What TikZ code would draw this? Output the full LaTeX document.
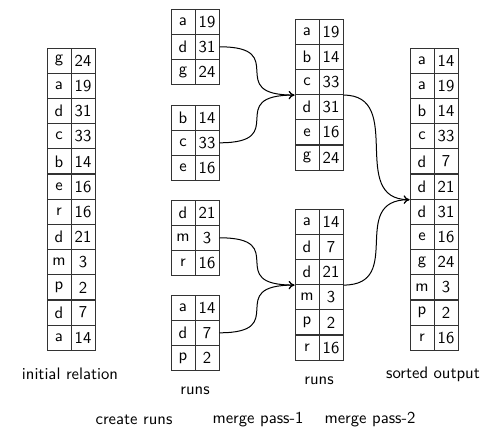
\documentclass[tikz,border=0pt]{standalone}
\usetikzlibrary{arrows.meta}
\renewcommand{\familydefault}{\sfdefault}

\tikzset{cell/.style={draw=black!80,line width=0.6pt,minimum width=14.4pt,minimum height=15.1pt,inner sep=0pt},
	flow/.style={-{To[length=3.5pt,width=5pt]},line width=0.6pt}}
\newcommand{\relcol}[4]{%
	\foreach \k/\v [count=\i] in {#4} {
		\node[cell] (#1-\i k) at (#2, #3+\i*25.2-12.6) {\k};
		\node[cell] (#1-\i v) at (#2+24, #3+\i*25.2-12.6) {\v};
	}}

\begin{document}
\begin{tikzpicture}[x=0.6pt,y=-0.6pt]
		\useasboundingbox (0,0) rectangle (483,428);
		\relcol{rel}{59}{48}{g/24,a/19,d/31,c/33,b/14,e/16,r/16,d/21,m/3,p/2,d/7,a/14}
		\relcol{run1}{183}{9}{a/19,d/31,g/24}
		\relcol{run2}{183}{105}{b/14,c/33,e/16}
		\relcol{run3}{183}{200}{d/21,m/3,r/16}
		\relcol{run4}{183}{295}{a/14,d/7,p/2}
		\relcol{mrg1}{307}{19}{a/19,b/14,c/33,d/31,e/16,g/24}
		\relcol{mrg2}{307}{209}{a/14,d/7,d/21,m/3,p/2,r/16}
		\relcol{out}{422}{48}{a/14,a/19,b/14,c/33,d/7,d/21,d/31,e/16,g/24,m/3,p/2,r/16}
		\draw[flow] (run1-2v.east) .. controls +(72,0) and +(-72,0) .. (mrg1-3k.south west);
		\draw[flow] (run2-2v.east) .. controls +(72,0) and +(-72,0) .. (mrg1-3k.south west);
		\draw[flow] (run3-2v.east) .. controls +(72,0) and +(-72,0) .. (mrg2-3k.south west);
		\draw[flow] (run4-2v.east) .. controls +(72,0) and +(-72,0) .. (mrg2-3k.south west);
		\draw[flow] (mrg1-3v.south east) .. controls +(62,0) and +(-62,0) .. (out-6k.south west);
		\draw[flow] (mrg2-3v.south east) .. controls +(62,0) and +(-62,0) .. (out-6k.south west);
		\node (relL) at (70, 374) {initial relation};
		\node (runL) at (195, 391) {runs};
		\node (mrgL) at (319, 381) {runs};
		\node (outL) at (433, 374) {sorted output};
		\node (stepA) at (134, 420) {create runs};
		\node (stepB) at (258, 420) {merge pass-1};
		\node (stepC) at (370, 420) {merge pass-2};
	\end{tikzpicture}
\end{document}
